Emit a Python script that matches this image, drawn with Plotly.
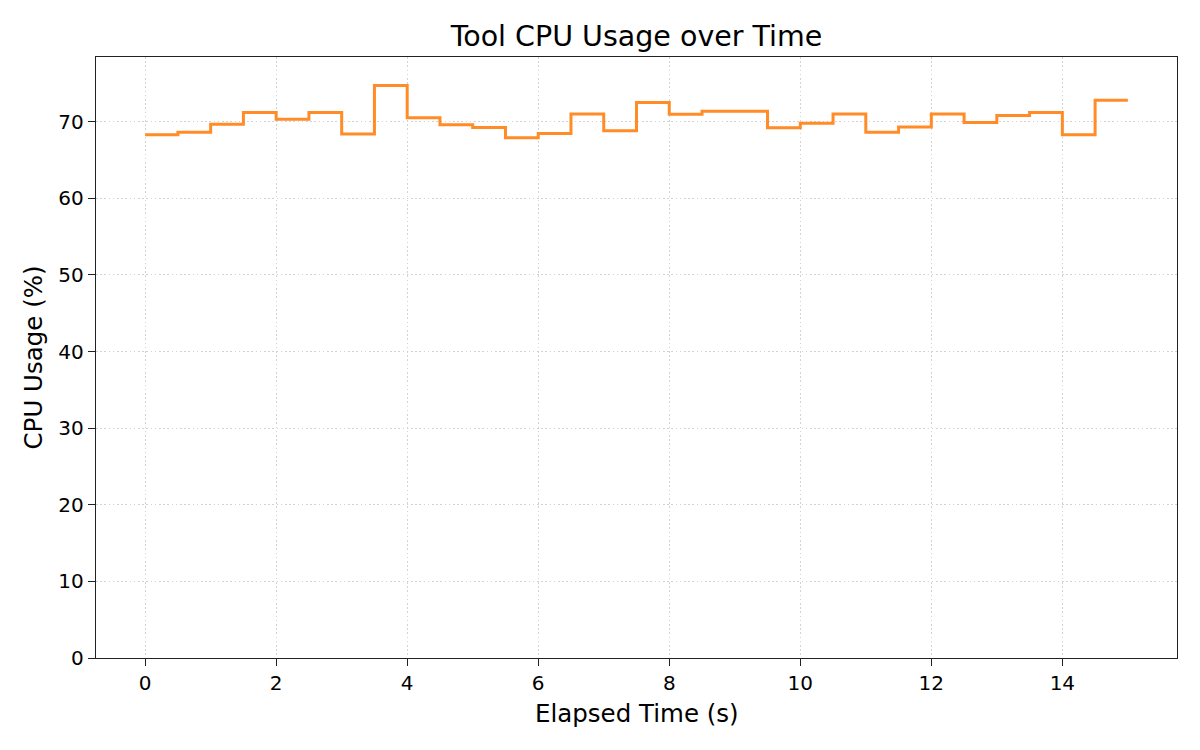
import plotly.graph_objects as go

# CPU usage sampled every 0.5 s (step plot, value held until next sample)
elapsed_s = [i * 0.5 for i in range(31)]
cpu_usage = [
    68.3, 68.6, 69.65, 71.2, 70.3, 71.2, 68.4, 74.7, 70.5, 69.6,
    69.25, 67.9, 68.45, 71.0, 68.8, 72.5, 70.95, 71.35, 71.35, 69.2,
    69.8, 71.0, 68.6, 69.3, 71.0, 69.9, 70.8, 71.2, 68.3, 72.8,
    72.8,
]
x_ticks = [0, 2, 4, 6, 8, 10, 12, 14]
y_ticks = [0, 10, 20, 30, 40, 50, 60, 70]

fig = go.Figure()
fig.add_trace(go.Scatter(
    x=elapsed_s,
    y=cpu_usage,
    mode='lines',
    line=dict(shape='hv', width=3, color='rgba(255,127,14,0.9)'),
    showlegend=False
))

axis_style = dict(
    showline=True, linecolor='#222222', linewidth=1.4, mirror=True,
    ticks='outside', ticklen=7, tickwidth=1.4, tickcolor='#222222',
    showgrid=True, gridcolor='#d2d2d2', griddash='1.6px,2.6px', gridwidth=1.3,
    zeroline=False, tickfont=dict(size=20, color='black'),
)

fig.update_layout(
    title=dict(text='Tool CPU Usage over Time', x=0.5, xref='paper', xanchor='center',
               y=0.963, yanchor='middle', font=dict(size=28.5, color='black')),
    font=dict(family='DejaVu Sans', color='black'),
    plot_bgcolor='white',
    paper_bgcolor='white',
    width=1200,
    height=750,
    margin=dict(l=88, r=31, t=49, b=100),
    xaxis=dict(axis_style, range=[-0.75, 15.75], tickvals=x_ticks),
    yaxis=dict(axis_style, range=[0, max(cpu_usage) * 1.05], tickvals=y_ticks),
    annotations=[
        dict(text='Elapsed Time (s)', x=0.5, y=0, xref='paper', yref='paper',
             xanchor='center', yanchor='middle', yshift=-55, showarrow=False,
             font=dict(size=24.5, color='black')),
        dict(text='CPU Usage (%)', x=0, y=0.5, xref='paper', yref='paper',
             xanchor='center', yanchor='middle', xshift=-63, textangle=-90,
             showarrow=False, font=dict(size=24.5, color='black')),
    ],
)

fig.write_html('out.html')
